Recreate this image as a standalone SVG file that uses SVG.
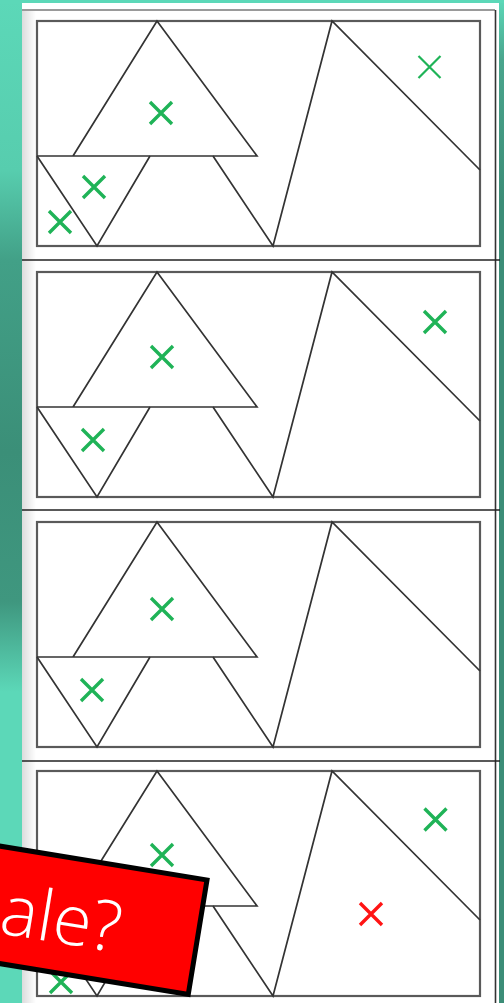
<svg xmlns="http://www.w3.org/2000/svg" width="504" height="1003" viewBox="0 0 504 1003">
  <defs>
    <linearGradient id="tealL" x1="0" y1="0" x2="0" y2="1">
      <stop offset="0" stop-color="#5cd8b8"/>
      <stop offset="0.17" stop-color="#57cdae"/>
      <stop offset="0.26" stop-color="#42a087"/>
      <stop offset="0.45" stop-color="#3b8f78"/>
      <stop offset="0.6" stop-color="#3f977f"/>
      <stop offset="0.69" stop-color="#5cd8b8"/>
      <stop offset="1" stop-color="#5cd8b8"/>
    </linearGradient>
    <linearGradient id="tealR" x1="0" y1="0" x2="0" y2="1">
      <stop offset="0" stop-color="#5cd8b8"/>
      <stop offset="0.06" stop-color="#4aa58d"/>
      <stop offset="0.2" stop-color="#3c8d77"/>
      <stop offset="1" stop-color="#3c8d77"/>
    </linearGradient>
    <linearGradient id="shade" x1="0" y1="0" x2="1" y2="0">
      <stop offset="0" stop-color="#dcdcdc"/>
      <stop offset="1" stop-color="#ffffff"/>
    </linearGradient>
    <g id="drawing">
      <rect class="inner" x="37" y="0" width="443" height="225"/>
      <polyline class="ln" points="73,135 157,0 257,135 37,135"/>
      <polyline class="ln" points="37,135 97,225 150,135"/>
      <polyline class="ln" points="213,135 273,225 332,0 480,149"/>
    </g>
    <path id="x" d="M-11,-11 L11,11 M11,-11 L-11,11"/>
  </defs>
  <style>
    .inner { fill: none; stroke: #5a5a5a; stroke-width: 2.2; }
    .ln { fill: none; stroke: #333333; stroke-width: 1.7; stroke-linejoin: miter; }
    .sep { stroke: #222222; stroke-width: 1.6; }
    .gx { stroke: #1fb357; stroke-width: 3.4; fill: none; }
    .gxt { stroke: #1fb357; stroke-width: 2.2; fill: none; }
    .rx { stroke: #ff1414; stroke-width: 3.4; fill: none; }
    .lbl { fill: #ff0000; stroke: #000000; stroke-width: 5; }
    .lbltxt { font-family: "Open Sans", "Liberation Sans", sans-serif; font-weight: 300; font-size: 70px; fill: #ffffff; }
  </style>

  <!-- background -->
  <rect x="0" y="0" width="504" height="1003" fill="#ffffff"/>
  <rect x="0" y="0" width="22" height="1003" fill="url(#tealL)"/>
  <rect x="499" y="0" width="5" height="1003" fill="url(#tealR)"/>
  <rect x="0" y="0" width="504" height="3" fill="#5cd8b8"/>
  <rect x="22" y="11" width="14" height="992" fill="url(#shade)"/>

  <!-- frame -->
  <g id="frame">
    <line x1="22" y1="10" x2="495" y2="10" stroke="#9a9a9a" stroke-width="2"/>
    <line x1="495.5" y1="10" x2="495.5" y2="1003" stroke="#333333" stroke-width="1.6"/>
    <line class="sep" x1="22" y1="260" x2="500" y2="260"/>
    <line class="sep" x1="22" y1="510" x2="500" y2="510"/>
    <line class="sep" x1="22" y1="761" x2="500" y2="761"/>
  </g>

  <g id="panel1" transform="translate(0,21)">
    <use href="#drawing"/>
    <use href="#x" class="gx" x="161" y="92"/>
    <use href="#x" class="gx" x="94" y="166"/>
    <use href="#x" class="gx" x="60" y="201"/>
    <use href="#x" class="gxt" x="429.5" y="46"/>
  </g>

  <g id="panel2" transform="translate(0,272)">
    <use href="#drawing"/>
    <use href="#x" class="gx" x="162" y="85"/>
    <use href="#x" class="gx" x="93" y="168"/>
    <use href="#x" class="gx" x="435" y="50"/>
  </g>

  <g id="panel3" transform="translate(0,522)">
    <use href="#drawing"/>
    <use href="#x" class="gx" x="162" y="87"/>
    <use href="#x" class="gx" x="92" y="168"/>
  </g>

  <g id="panel4" transform="translate(0,771)">
    <use href="#drawing"/>
    <use href="#x" class="gx" x="162" y="84"/>
    <use href="#x" class="gx" x="435.5" y="48.5"/>
    <use href="#x" class="gx" x="61" y="211"/>
    <use href="#x" class="rx" x="371" y="143"/>
  </g>

  <g id="label" transform="translate(207,880) rotate(9.3)">
    <rect class="lbl" x="-400" y="0" width="400" height="116"/>
    <text class="lbltxt" x="-77" y="86" text-anchor="end">ale?</text>
  </g>
</svg>
